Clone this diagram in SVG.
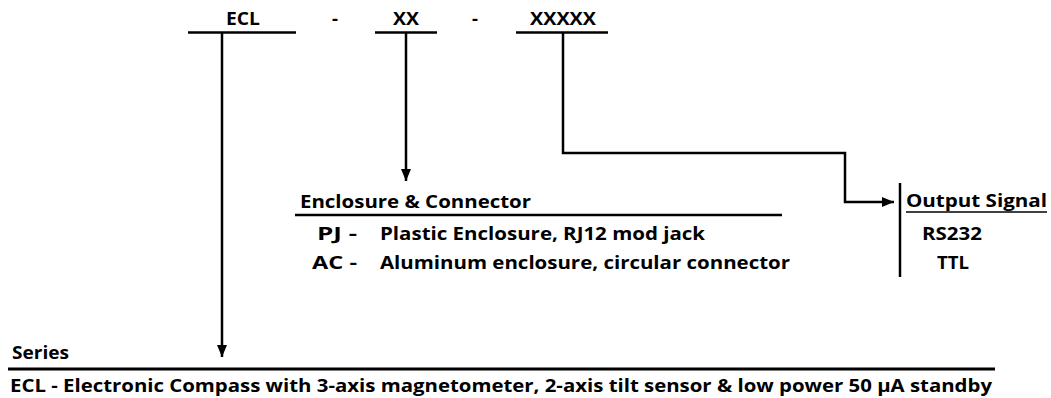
<svg xmlns="http://www.w3.org/2000/svg" width="1051" height="398" viewBox="0 0 1051 398">
<defs>
<marker id="ah" viewBox="0 0 12 10" refX="12" refY="5" markerWidth="12" markerHeight="10" markerUnits="userSpaceOnUse" orient="auto">
<path d="M0,0 L12,5 L0,10 Z" fill="#000"/>
</marker>
<style>
text{font-family:"Open Sans","Noto Sans","Liberation Sans",sans-serif;font-weight:700;font-size:18px;fill:#000}
.ln{stroke:#000;stroke-width:2.5;fill:none}
.cn{stroke:#000;stroke-width:2.5;fill:none;marker-end:url(#ah)}
</style>
</defs>
<rect width="1051" height="398" fill="#fff"/>
<g id="code">
<text x="226" y="25" textLength="34" lengthAdjust="spacingAndGlyphs">ECL</text>
<text x="332" y="25" textLength="6" lengthAdjust="spacingAndGlyphs">-</text>
<text x="393" y="25" textLength="26" lengthAdjust="spacingAndGlyphs">XX</text>
<text x="472" y="25" textLength="6" lengthAdjust="spacingAndGlyphs">-</text>
<text x="530" y="25" textLength="66" lengthAdjust="spacingAndGlyphs">XXXXX</text>
<line class="ln" x1="188" y1="32.5" x2="296" y2="32.5"/>
<line class="ln" x1="375" y1="32.5" x2="437" y2="32.5"/>
<line class="ln" x1="516" y1="32.5" x2="608" y2="32.5"/>
</g>
<g id="connectors">
<path class="cn" d="M222,33 V357"/>
<path class="cn" d="M406,33 V181"/>
<path class="cn" d="M563,33 V153 H845 V202 H894"/>
</g>
<g id="enclosure">
<text x="300" y="208" textLength="231" lengthAdjust="spacingAndGlyphs">Enclosure &amp; Connector</text>
<line class="ln" x1="295" y1="215" x2="782" y2="215"/>
<text x="317" y="240" textLength="40" lengthAdjust="spacingAndGlyphs">PJ -</text>
<text x="380" y="240" textLength="325" lengthAdjust="spacingAndGlyphs">Plastic Enclosure, RJ12 mod jack</text>
<text x="312" y="269" textLength="45" lengthAdjust="spacingAndGlyphs">AC -</text>
<text x="380" y="269" textLength="410" lengthAdjust="spacingAndGlyphs">Aluminum enclosure, circular connector</text>
</g>
<g id="output">
<line class="ln" x1="900" y1="183" x2="900" y2="277"/>
<text x="906" y="207" textLength="141" lengthAdjust="spacingAndGlyphs">Output Signal</text>
<line x1="906" y1="212" x2="1047" y2="212" stroke="#000" stroke-width="1.5"/>
<text x="922" y="240" textLength="60" lengthAdjust="spacingAndGlyphs">RS232</text>
<text x="937" y="269" textLength="32" lengthAdjust="spacingAndGlyphs">TTL</text>
</g>
<g id="series">
<text x="12" y="359" textLength="57" lengthAdjust="spacingAndGlyphs">Series</text>
<line x1="8" y1="369" x2="995" y2="369" stroke="#000" stroke-width="3"/>
<text x="10" y="392" textLength="982" lengthAdjust="spacingAndGlyphs">ECL - Electronic Compass with 3-axis magnetometer, 2-axis tilt sensor &amp; low power 50 µA standby</text>
</g>
</svg>
